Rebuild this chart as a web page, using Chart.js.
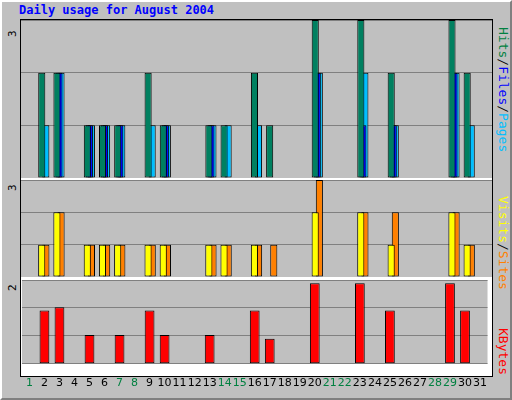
<!DOCTYPE html>
<html><head><meta charset="utf-8">
<script src="https://cdn.jsdelivr.net/npm/chart.js@4"></script>
<style>
body{margin:0;background:#fff}
#frame{position:absolute;left:0;top:0;width:508px;height:396px;background:#c0c0c0;border-left:2px solid #fff;border-top:2px solid #fff;border-right:2px solid #808080;border-bottom:2px solid #808080}
#plot{position:absolute;left:20px;top:19px;width:471px;height:356px;border:1px solid #000;background:#fff}
.c{position:absolute;left:21px;width:471px}
.t{position:absolute;font-family:"DejaVu Sans Mono",monospace;font-size:12px}
.r{position:absolute;font-family:"DejaVu Sans Mono",monospace;font-size:13px;transform:rotate(90deg);transform-origin:left top;white-space:nowrap}
.l{position:absolute;font-family:"DejaVu Sans Mono",monospace;font-size:11px;transform:rotate(-90deg);transform-origin:left top}
</style></head><body>
<div id="frame"></div>
<div id="plot"></div>
<div class="t" style="left:19px;top:3px;color:#0000ff;font-weight:bold">Daily usage for August 2004</div>
<div class="l" style="left:6px;top:37px">3</div>
<div class="l" style="left:6px;top:191px">3</div>
<div class="l" style="left:6px;top:291px">2</div>
<div class="r" style="left:511px;top:27px"><span style="color:#008040">Hits</span>/<span style="color:#0000ff">Files</span>/<span style="color:#00bfff">Pages</span></div>
<div class="r" style="left:511px;top:196px"><span style="color:#ffff00">Visits</span>/<span style="color:#ff8000">Sites</span></div>
<div class="r" style="left:511px;top:328px;color:#ff0000">KBytes</div>
<div class="c" style="top:20px;height:158px"><canvas id="c1"></canvas></div>
<div class="c" style="top:180px;height:97px"><canvas id="c2"></canvas></div>
<div class="c" style="top:280px;height:115px"><canvas id="c3"></canvas></div>
<script>
const days=Array.from({length:31},(_,i)=>String(i+1));
const weekend=[1,7,8,14,15,21,22,28,29];
const hits  =[0,2,2,0,1,1,1,0,2,1,0,0,1,1,0,2,1,0,0,3,0,0,3,0,2,0,0,0,3,2,0];
const files =[0,0,2,0,1,1,1,0,0,1,0,0,1,0,0,0,0,0,0,2,0,0,1,0,1,0,0,0,2,0,0];
const pages =[0,1,2,0,1,1,1,0,1,1,0,0,1,1,0,1,0,0,0,2,0,0,2,0,1,0,0,0,2,1,0];
const visits=[0,1,2,0,1,1,1,0,1,1,0,0,1,1,0,1,0,0,0,2,0,0,2,0,1,0,0,0,2,1,0];
const sites =[0,1,2,0,1,1,1,0,1,1,0,0,1,1,0,1,1,0,0,3,0,0,2,0,2,0,0,0,2,1,0];
const kbytes=[0,1.27,1.35,0,0.69,0,0.69,0,1.27,0.69,0,0,0.69,0,0,1.27,0.6,0,0,1.92,0,0,1.92,0,1.27,0,0,0,1.92,1.27,0];
function ds(data,color,bp){return{data,backgroundColor:color,borderColor:'#000',borderWidth:1,borderSkipped:false,barPercentage:bp,grouped:true}}
function mk(id,sets,max,step,cat,showX){
 new Chart(document.getElementById(id),{type:'bar',data:{labels:days,datasets:sets.map(s=>{s.categoryPercentage=cat;return s})},
 options:{responsive:true,maintainAspectRatio:false,animation:false,events:[],
  layout:{padding:0},
  plugins:{legend:{display:false},tooltip:{enabled:false}},
  scales:{
   x:{display:showX,grid:{display:false},border:{display:false},
      ticks:{autoSkip:false,maxRotation:0,padding:5,font:{family:'DejaVu Sans',size:11},
      color:c=>weekend.includes(c.index+1)?'#008040':'#000'}},
   y:{min:0,max:max,afterBuildTicks:a=>{a.ticks=[];for(let v=0;v<=max+1e-9;v+=step)a.ticks.push({value:v})},
      grid:{color:'#808080',drawTicks:false},border:{display:false},ticks:{display:false}}
  }},
  plugins:[{id:'bg',beforeDraw(ch){const a=ch.chartArea,x=ch.ctx;x.save();x.fillStyle='#c0c0c0';x.fillRect(a.left,a.top,a.right-a.left,a.bottom-a.top);x.restore();}}]
 });
}
mk('c1',[ds(hits,'#008060',3.5),ds(files,'#0000ff',3.5),ds(pages,'#00bfff',3.5)],3,1,0.4,false);
mk('c2',[ds(visits,'#ffff00',1.7),ds(sites,'#ff8000',1.7)],3,1,0.55,false);
mk('c3',[ds(kbytes,'#ff0000',0.65)],2,2/3,1,true);
</script></body></html>
